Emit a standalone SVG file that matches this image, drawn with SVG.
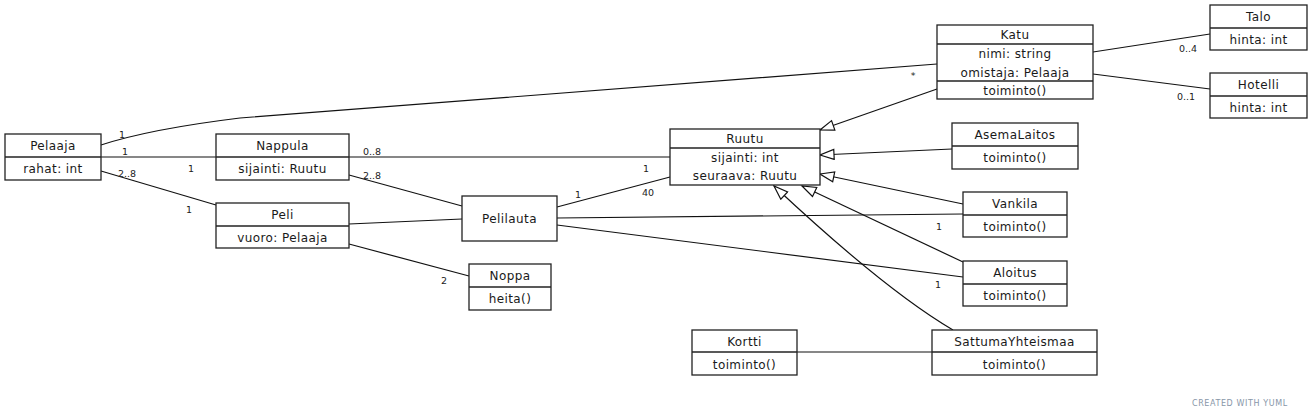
<svg xmlns="http://www.w3.org/2000/svg" width="1313" height="418" viewBox="0 0 1313 418">
<style>
.b{fill:#fff;stroke:#222;stroke-width:1.3}
.d{stroke:#222;stroke-width:1.3}
.c{fill:none;stroke:#111;stroke-width:1.2}
.t{font-family:"DejaVu Sans",sans-serif;font-size:12px;letter-spacing:0.4px;fill:#1a1a1a;text-anchor:middle}
.l{font-family:"DejaVu Sans",sans-serif;font-size:9.5px;fill:#222;text-anchor:middle}
.w{font-family:"DejaVu Sans",sans-serif;font-size:8px;fill:#8796a8;letter-spacing:0.6px}
</style>
<defs>
<marker id="inh" markerUnits="userSpaceOnUse" markerWidth="18" markerHeight="14" refX="15" refY="6" orient="auto">
<path d="M1,1 L15,6 L1,11 Z" fill="#fff" stroke="#111" stroke-width="1.2"/>
</marker>
</defs>
<rect width="1313" height="418" fill="#fff"/>
<g id="connectors">
<path class="c" d="M101,145 Q150,129 240,118 L937,64"/>
<line class="c" x1="101" y1="157" x2="216" y2="157"/>
<line class="c" x1="349" y1="157" x2="670" y2="157"/>
<line class="c" x1="101" y1="171" x2="216" y2="205"/>
<line class="c" x1="349" y1="175" x2="462" y2="206"/>
<line class="c" x1="349" y1="224" x2="462" y2="219"/>
<line class="c" x1="349" y1="244" x2="469" y2="276"/>
<line class="c" x1="557" y1="207" x2="670" y2="177"/>
<line class="c" x1="557" y1="218" x2="963" y2="214"/>
<line class="c" x1="557" y1="225" x2="963" y2="277"/>
<line class="c" x1="1093" y1="52" x2="1210" y2="34"/>
<line class="c" x1="1093" y1="74" x2="1210" y2="89"/>
<line class="c" x1="797" y1="352" x2="932" y2="352"/>
<line class="c" x1="937" y1="89" x2="820" y2="130" marker-end="url(#inh)"/>
<line class="c" x1="952" y1="149" x2="820" y2="155" marker-end="url(#inh)"/>
<line class="c" x1="963" y1="204" x2="820" y2="174" marker-end="url(#inh)"/>
<line class="c" x1="963" y1="262" x2="802" y2="186" marker-end="url(#inh)"/>
<path class="c" d="M953,330 Q885,290 774,186" marker-end="url(#inh)"/>
<text class="l" x="122" y="138">1</text>
<text class="l" x="913" y="79">*</text>
<text class="l" x="125" y="155">1</text>
<text class="l" x="191" y="172">1</text>
<text class="l" x="372" y="155">0..8</text>
<text class="l" x="646" y="172">1</text>
<text class="l" x="127" y="177">2..8</text>
<text class="l" x="189" y="213">1</text>
<text class="l" x="372" y="179">2..8</text>
<text class="l" x="444" y="284">2</text>
<text class="l" x="578" y="198">1</text>
<text class="l" x="648" y="196">40</text>
<text class="l" x="939" y="230">1</text>
<text class="l" x="938" y="288">1</text>
<text class="l" x="1188" y="52">0..4</text>
<text class="l" x="1186" y="100">0..1</text>
</g>
<g id="Pelaaja">
<rect class="b" x="5" y="134" width="96" height="46"/>
<line class="d" x1="5" y1="157" x2="101" y2="157"/>
<text class="t" x="53" y="150">Pelaaja</text>
<text class="t" x="53" y="173">rahat: int</text>
</g>
<g id="Nappula">
<rect class="b" x="216" y="134" width="133" height="46"/>
<line class="d" x1="216" y1="157" x2="349" y2="157"/>
<text class="t" x="282.5" y="150">Nappula</text>
<text class="t" x="282.5" y="173">sijainti: Ruutu</text>
</g>
<g id="Peli">
<rect class="b" x="216" y="203" width="133" height="45"/>
<line class="d" x1="216" y1="226" x2="349" y2="226"/>
<text class="t" x="282.5" y="219">Peli</text>
<text class="t" x="282.5" y="242">vuoro: Pelaaja</text>
</g>
<g id="Pelilauta">
<rect class="b" x="462" y="196" width="95" height="45"/>
<text class="t" x="509.5" y="223">Pelilauta</text>
</g>
<g id="Noppa">
<rect class="b" x="469" y="264" width="82" height="46"/>
<line class="d" x1="469" y1="287" x2="551" y2="287"/>
<text class="t" x="510" y="280">Noppa</text>
<text class="t" x="510" y="303">heita()</text>
</g>
<g id="Ruutu">
<rect class="b" x="670" y="129" width="150" height="56"/>
<line class="d" x1="670" y1="148" x2="820" y2="148"/>
<text class="t" x="745" y="143">Ruutu</text>
<text class="t" x="745" y="162">sijainti: int</text>
<text class="t" x="745" y="180">seuraava: Ruutu</text>
</g>
<g id="Katu">
<rect class="b" x="937" y="25" width="156" height="74"/>
<line class="d" x1="937" y1="44" x2="1093" y2="44"/>
<line class="d" x1="937" y1="81" x2="1093" y2="81"/>
<text class="t" x="1015" y="39">Katu</text>
<text class="t" x="1015" y="58">nimi: string</text>
<text class="t" x="1015" y="77">omistaja: Pelaaja</text>
<text class="t" x="1015" y="95">toiminto()</text>
</g>
<g id="Talo">
<rect class="b" x="1210" y="5" width="97" height="45"/>
<line class="d" x1="1210" y1="28" x2="1307" y2="28"/>
<text class="t" x="1258.5" y="21">Talo</text>
<text class="t" x="1258.5" y="44">hinta: int</text>
</g>
<g id="Hotelli">
<rect class="b" x="1210" y="73" width="97" height="45"/>
<line class="d" x1="1210" y1="96" x2="1307" y2="96"/>
<text class="t" x="1258.5" y="89">Hotelli</text>
<text class="t" x="1258.5" y="112">hinta: int</text>
</g>
<g id="AsemaLaitos">
<rect class="b" x="952" y="123" width="126" height="46"/>
<line class="d" x1="952" y1="146" x2="1078" y2="146"/>
<text class="t" x="1015" y="139">AsemaLaitos</text>
<text class="t" x="1015" y="162">toiminto()</text>
</g>
<g id="Vankila">
<rect class="b" x="963" y="192" width="104" height="45"/>
<line class="d" x1="963" y1="215" x2="1067" y2="215"/>
<text class="t" x="1015" y="208">Vankila</text>
<text class="t" x="1015" y="231">toiminto()</text>
</g>
<g id="Aloitus">
<rect class="b" x="963" y="261" width="104" height="45"/>
<line class="d" x1="963" y1="284" x2="1067" y2="284"/>
<text class="t" x="1015" y="277">Aloitus</text>
<text class="t" x="1015" y="300">toiminto()</text>
</g>
<g id="Kortti">
<rect class="b" x="692" y="330" width="105" height="45"/>
<line class="d" x1="692" y1="352" x2="797" y2="352"/>
<text class="t" x="744.5" y="346">Kortti</text>
<text class="t" x="744.5" y="369">toiminto()</text>
</g>
<g id="SattumaYhteismaa">
<rect class="b" x="932" y="330" width="165" height="45"/>
<line class="d" x1="932" y1="352" x2="1097" y2="352"/>
<text class="t" x="1014.5" y="346">SattumaYhteismaa</text>
<text class="t" x="1014.5" y="369">toiminto()</text>
</g>
<text class="w" x="1192" y="406">CREATED WITH YUML</text>
</svg>
